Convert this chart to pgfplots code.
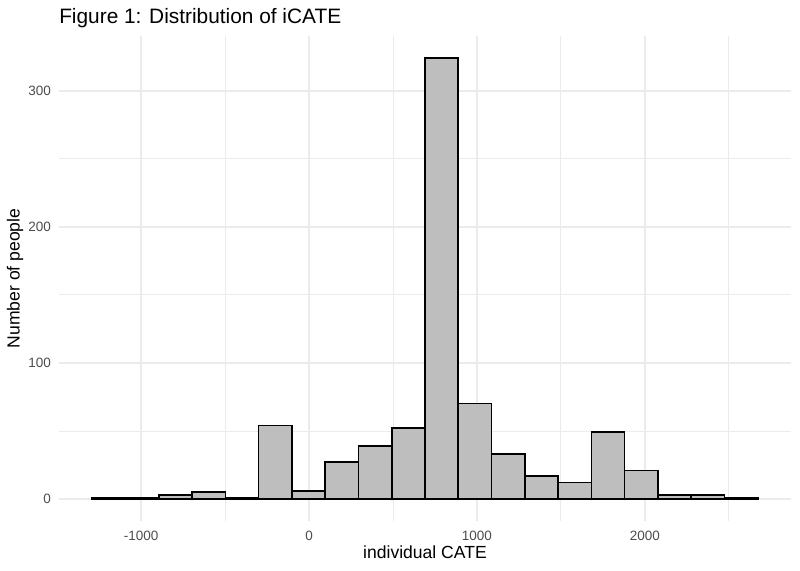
\documentclass[border=0pt]{standalone}
\usepackage{fontspec}
\setmainfont{Liberation Sans}
\usepackage{pgfplots}
\pgfplotsset{compat=1.18}
\definecolor{gridgrey}{HTML}{EBEBEB}
\definecolor{barfill}{HTML}{BEBEBE}
\definecolor{ticktext}{HTML}{4D4D4D}
\begin{document}
\begin{tikzpicture}
\begin{axis}[
    scale only axis,
    width=488pt, height=323.3pt,
    xmin=-1490, xmax=2871,
    ymin=-16.2, ymax=340.2,
    axis line style={draw=none},
    major tick length=0pt, minor tick length=0pt,
    xtick={-1000,0,1000,2000},
    ytick={0,100,200,300},
    minor xtick={-1500,-500,500,1500,2500},
    minor ytick={50,150,250},
    xmajorgrids, ymajorgrids, xminorgrids, yminorgrids,
    major grid style={gridgrey, line width=1.07pt},
    minor grid style={gridgrey, line width=0.53pt},
    scaled ticks=false,
    /pgf/number format/1000 sep={},
    /pgf/number format/assume math mode=true,
    ticklabel style={font=\fontsize{9}{10}\selectfont, text=ticktext},
    xticklabel style={anchor=base, yshift=-12.7pt},
    yticklabel style={xshift=-1.8pt},
    xlabel={individual CATE},
    ylabel={Number of people},
    label style={font=\fontsize{11.7}{13}\selectfont},
    xlabel style={at={(axis description cs:0.5,0)}, anchor=base, yshift=-25.3pt},
    ylabel style={at={(axis description cs:-0.060,0.5)}, anchor=center},
    title={Figure 1: Distribution of iCATE},
    title style={at={(axis description cs:0,1)}, anchor=base west, inner sep=0pt,
                 yshift=2.6pt, font=\fontsize{13.9}{16}\selectfont},
]
\addplot[ybar interval, fill=barfill, draw=black, line width=1.07pt] coordinates {
    (-1292.00,1)
    (-1093.75,1)
    (-895.50,3)
    (-697.25,5)
    (-499.00,1)
    (-300.75,54)
    (-102.50,6)
    (95.75,27)
    (294.00,39)
    (492.25,52)
    (690.50,324)
    (888.75,70)
    (1087.00,33)
    (1285.25,17)
    (1483.50,12)
    (1681.75,49)
    (1880.00,21)
    (2078.25,3)
    (2276.50,3)
    (2474.75,1)
    (2673.00,0)
};
\end{axis}
\pgfresetboundingbox
\useasboundingbox (-39.3pt,-33.3pt) rectangle (494pt,347.3pt);
\end{tikzpicture}
\end{document}
